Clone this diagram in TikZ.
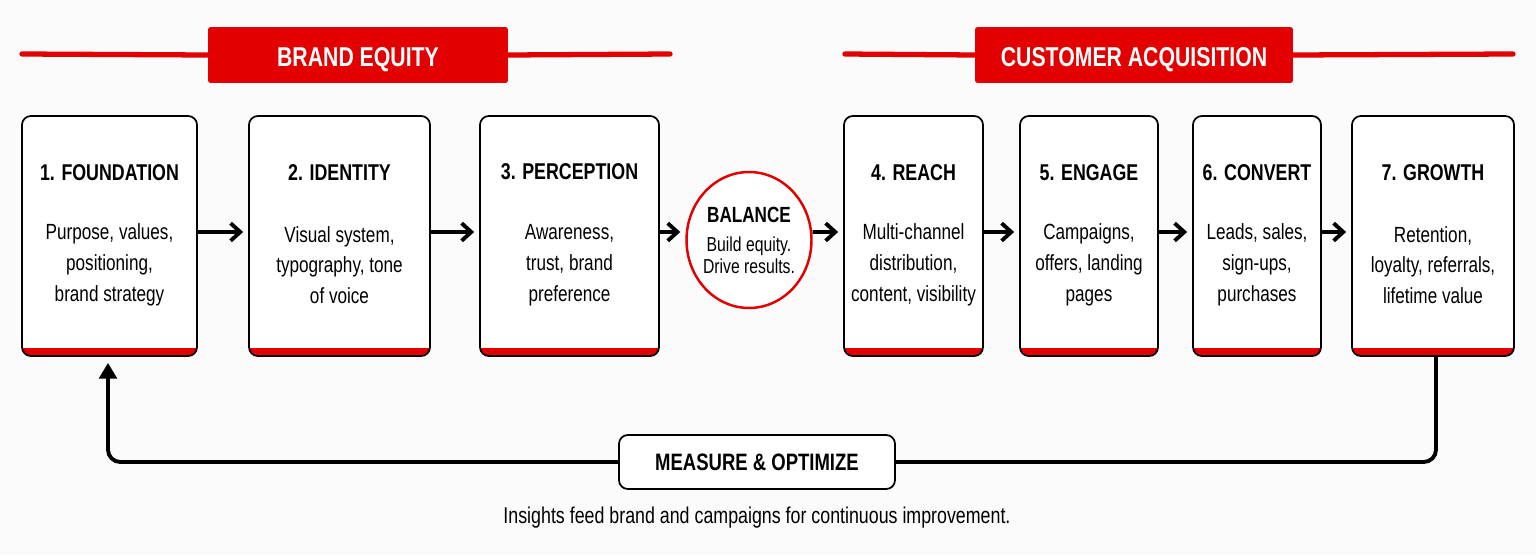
\documentclass[tikz,border=0pt]{standalone}
\usepackage{fontspec}
\setmainfont{Liberation Sans}[FakeStretch=0.78]
\usetikzlibrary{arrows.meta,positioning,shapes.geometric}

\definecolor{brandred}{RGB}{226,0,0}
\definecolor{paper}{RGB}{251,251,251}

\tikzset{
  stage/.style={draw, line width=1pt, fill=white, rounded corners=5pt,
    minimum height=4.8cm, inner sep=0pt,
    path picture={\fill[brandred, sharp corners]
      ([yshift=0.15cm]path picture bounding box.south west)
      rectangle (path picture bounding box.south east);}},
  ttl/.style={font=\bfseries\fontsize{13}{16}\selectfont},
  body/.style={align=center, font=\fontsize{12.5}{17.6}\selectfont},
  arr/.style={-{Straight Barb[length=5.5pt,width=10pt]}, line width=2.2pt, shorten >=0.1cm},
  banner/.style={fill=brandred, rounded corners=1.5pt, text=white,
    minimum height=1.12cm, text height=0.45cm, text depth=0pt,
    font=\bfseries\fontsize{15.5}{18}\selectfont},
  bandline/.style={brandred, line width=3pt, line cap=round},
  feedback/.style={line width=2.2pt, rounded corners=7pt}
}

\begin{document}
\begin{tikzpicture}[x=0.02cm, y=-0.02cm]
  \useasboundingbox[fill=paper] (0,0) rectangle (1536,555);

  % banners
  \node[banner, minimum width=6cm] (be) at (358,55) {BRAND EQUITY};
  \node[banner, minimum width=6.36cm] (ca) at (1134,55) {CUSTOMER ACQUISITION};
  \coordinate (beL) at (22,54);
  \coordinate (beR) at (670,54);
  \coordinate (caL) at (845,54);
  \coordinate (caR) at (1513,54);
  \draw[bandline] (beL) -- (be.west);
  \draw[bandline] (be.east) -- (beR);
  \draw[bandline] (caL) -- (ca.west);
  \draw[bandline] (ca.east) -- (caR);

  % stages
  \node[stage, minimum width=3.5cm]  (s1) at (109.5,236) {};
  \node[stage, minimum width=3.62cm] (s2) at (339.5,236) {};
  \node[stage, minimum width=3.58cm] (s3) at (569.5,236) {};
  \node[stage, minimum width=2.78cm] (s4) at (913.5,236) {};
  \node[stage, minimum width=2.76cm] (s5) at (1089,236) {};
  \node[stage, minimum width=2.56cm] (s6) at (1257,236) {};
  \node[stage, minimum width=3.24cm] (s7) at (1433,236) {};

  \node[ttl] (t1) at ([yshift=-1.14cm]s1.north) {1. FOUNDATION};
  \node[ttl] (t2) at ([yshift=-1.14cm]s2.north) {2. IDENTITY};
  \node[ttl] (t3) at ([yshift=-1.14cm]s3.north) {3. PERCEPTION};
  \node[ttl] (t4) at ([yshift=-1.14cm]s4.north) {4. REACH};
  \node[ttl] (t5) at ([yshift=-1.14cm]s5.north) {5. ENGAGE};
  \node[ttl] (t6) at ([yshift=-1.14cm]s6.north) {6. CONVERT};
  \node[ttl] (t7) at ([yshift=-1.14cm]s7.north) {7. GROWTH};

  \node[body] (b1) at ([yshift=-3cm]s1.north) {Purpose, values,\\positioning,\\brand strategy};
  \node[body] (b2) at ([yshift=-3cm]s2.north) {Visual system,\\typography, tone\\of voice};
  \node[body] (b3) at ([yshift=-3cm]s3.north) {Awareness,\\trust, brand\\preference};
  \node[body] (b4) at ([yshift=-3cm]s4.north) {Multi-channel\\distribution,\\content, visibility};
  \node[body] (b5) at ([yshift=-3cm]s5.north) {Campaigns,\\offers, landing\\pages};
  \node[body] (b6) at ([yshift=-3cm]s6.north) {Leads, sales,\\sign-ups,\\purchases};
  \node[body] (b7) at ([yshift=-3cm]s7.north) {Retention,\\loyalty, referrals,\\lifetime value};

  % balance
  \node[ellipse, draw=brandred, line width=1.4pt, fill=white,
    minimum width=2.5cm, minimum height=2.72cm, inner sep=0pt] (bal) at (749,240) {};
  \node[font=\bfseries\fontsize{12.5}{15}\selectfont] (balT) at (749,215) {BALANCE};
  \node[align=center, font=\fontsize{11.5}{12.5}\selectfont] (balB) at (749,255) {Build equity.\\Drive results.};

  % arrows
  \draw[arr] ([yshift=0.08cm]s1.east) -- ([yshift=0.08cm]s2.west);
  \draw[arr] ([yshift=0.08cm]s2.east) -- ([yshift=0.08cm]s3.west);
  \draw[arr] ([yshift=0.08cm]s3.east) -- ([yshift=0.08cm]s3.east -| bal.west);
  \draw[arr] ([yshift=0.16cm]bal.east) -- ([yshift=0.08cm]s4.west);
  \draw[arr] ([yshift=0.08cm]s4.east) -- ([yshift=0.08cm]s5.west);
  \draw[arr] ([yshift=0.08cm]s5.east) -- ([yshift=0.08cm]s6.west);
  \draw[arr] ([yshift=0.08cm]s6.east) -- ([yshift=0.08cm]s7.west);

  % feedback loop
  \node[draw, line width=1pt, fill=white, rounded corners=5pt,
    minimum width=5.52cm, minimum height=1.08cm,
    font=\bfseries\fontsize{13.5}{15}\selectfont] (mo) at (757,462) {MEASURE \& OPTIMIZE};
  \draw[feedback] ([xshift=0.06cm]s7.south) |- (mo.east);
  \draw[feedback, -{Triangle[length=9pt,width=10pt]}, shorten >=0.12cm]
    (mo.west) -| ([xshift=-0.03cm]s1.south);

  \node[font=\fontsize{13}{15}\selectfont] (note) at (757,518)
    {Insights feed brand and campaigns for continuous improvement.};
\end{tikzpicture}
\end{document}
